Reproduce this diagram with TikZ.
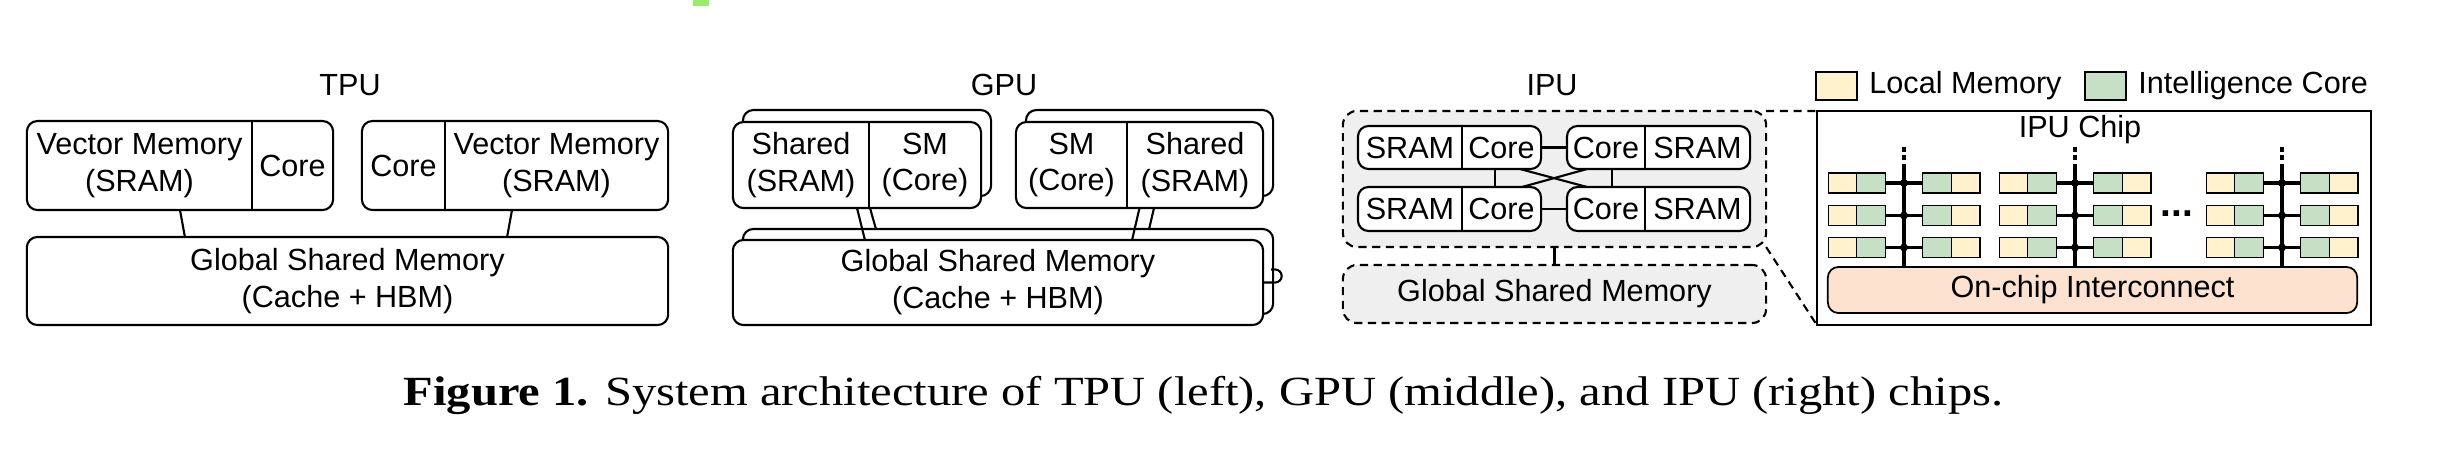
\documentclass[tikz,border=0pt]{standalone}
\usepackage{fontspec}
\setmainfont{Liberation Sans}
\newfontfamily\capfont[FakeStretch=1.17]{Liberation Serif}
\usepackage{tikz}
\usetikzlibrary{positioning}

\definecolor{memfill}{HTML}{FFF2CC}
\definecolor{corefill}{HTML}{C5E0C5}
\definecolor{netfill}{HTML}{FCE2CF}
\definecolor{regionfill}{HTML}{EFEFEF}
\definecolor{markgreen}{HTML}{9DE86F}

\begin{document}
\begin{tikzpicture}[x=0.01cm,y=-0.01cm,font=\fontsize{8.7}{10.5}\selectfont,
  box/.style={draw,line width=0.6pt,rounded corners=3pt,fill=white,inner sep=0pt,outer sep=0pt},
  part/.style={inner sep=0pt,outer sep=0pt,align=center},
  wire/.style={line width=0.6pt},
  region/.style={draw,line width=0.6pt,dash pattern=on 2.3pt off 1.6pt,rounded corners=4pt,fill=regionfill,inner sep=0pt,outer sep=0pt},
  zoomline/.style={line width=0.6pt,dash pattern=on 2.3pt off 1.6pt},
  lm/.style={draw,line width=0.4pt,fill=memfill,minimum width=0.285cm,minimum height=0.2cm,inner sep=0pt,outer sep=0pt},
  ic/.style={draw,line width=0.4pt,fill=corefill,minimum width=0.285cm,minimum height=0.2cm,inner sep=0pt,outer sep=0pt},
  link/.style={line width=1pt},
  dot/.style={circle,fill,inner sep=0pt,minimum size=0.08cm}]

\useasboundingbox (0,0) rectangle (2454,454);
\fill[markgreen] (693,0) rectangle (709,6);

% TPU
\node (tpu) at (350,85) {TPU};
\node[box,minimum width=3.06cm,minimum height=0.89cm] (tpuA) at (180,165.5) {};
\node[part,minimum width=2.25cm,minimum height=0.89cm] (tpuAm) at (139.5,165.5) {Vector Memory\\(SRAM)};
\node[part,minimum width=0.81cm,minimum height=0.89cm] (tpuAc) at (292.5,165.5) {Core};
\draw[wire] (tpuAm.north east) -- (tpuAm.south east);

\node[box,minimum width=3.06cm,minimum height=0.89cm] (tpuB) at (515,165.5) {};
\node[part,minimum width=0.83cm,minimum height=0.89cm] (tpuBc) at (403.5,165.5) {Core};
\node[part,minimum width=2.23cm,minimum height=0.89cm] (tpuBm) at (556.5,165.5) {Vector Memory\\(SRAM)};
\draw[wire] (tpuBm.north west) -- (tpuBm.south west);

\node[box,minimum width=6.41cm,minimum height=0.88cm,align=center] (tpuG) at (347.5,281) {Global Shared Memory\\(Cache + HBM)};

\draw[wire] (tpuA.south) -- ([xshift=-1.625cm]tpuG.north);
\draw[wire] ([xshift=-0.03cm]tpuB.south) -- ([xshift=1.595cm]tpuG.north);

% GPU
\node (gpu) at (1004,85) {GPU};
\node[box,minimum width=2.48cm,minimum height=0.86cm] (gpuAb) at (867,153) {};
\node[box,minimum width=2.48cm,minimum height=0.86cm] (gpuAf) at (857,165) {};
\node[part,minimum width=1.36cm,minimum height=0.86cm] (gpuAm) at (801,165) {Shared\\(SRAM)};
\node[part,minimum width=1.12cm,minimum height=0.86cm] (gpuAc) at (925,165) {SM\\(Core)};
\draw[wire] (gpuAm.north east) -- (gpuAm.south east);

\node[box,minimum width=2.47cm,minimum height=0.86cm] (gpuBb) at (1149.5,153) {};
\node[box,minimum width=2.47cm,minimum height=0.86cm] (gpuBf) at (1139.5,165) {};
\node[part,minimum width=1.11cm,minimum height=0.86cm] (gpuBc) at (1071.5,165) {SM\\(Core)};
\node[part,minimum width=1.36cm,minimum height=0.86cm] (gpuBm) at (1195,165) {Shared\\(SRAM)};
\draw[wire] (gpuBm.north west) -- (gpuBm.south west);

\node[box,minimum width=5.30cm,minimum height=0.85cm] (gpuGb) at (1008,271.5) {};
\node[box,minimum width=5.30cm,minimum height=0.85cm,align=center] (gpuGf) at (998,282.5) {Global Shared Memory\\(Cache + HBM)};
\draw[wire] (gpuGf.east) -- ++(0.12cm,0) arc[start angle=-90,end angle=90,radius=0.065cm] -- ++(-0.04cm,0);

\draw[wire] (gpuAf.south) -- ([xshift=-1.33cm]gpuGf.north);
\draw[wire] ([xshift=0.13cm]gpuAf.south) -- ([xshift=-1.32cm]gpuGb.north);
\draw[wire] (gpuBf.south) -- ([xshift=1.34cm]gpuGf.north);
\draw[wire] ([xshift=0.145cm]gpuBf.south) -- ([xshift=1.41cm]gpuGb.north);

% IPU
\node (ipu) at (1552,85) {IPU};
\node[region,minimum width=4.23cm,minimum height=1.36cm] (ipuA) at (1554.5,179) {};
\node[region,minimum width=4.23cm,minimum height=0.58cm] (ipuG) at (1554.5,294) {Global Shared Memory};
\draw[wire] (ipuA.south) -- (ipuG.north);

\node[box,minimum width=1.83cm,minimum height=0.43cm] (t1) at (1449.5,147.5) {};
\node[part,minimum width=1.04cm,minimum height=0.43cm] (t1m) at (1410,147.5) {SRAM};
\node[part,minimum width=0.79cm,minimum height=0.43cm] (t1c) at (1501.5,147.5) {Core};
\draw[wire] (t1m.north east) -- (t1m.south east);

\node[box,minimum width=1.83cm,minimum height=0.43cm] (t2) at (1658.5,147.5) {};
\node[part,minimum width=0.78cm,minimum height=0.43cm] (t2c) at (1606,147.5) {Core};
\node[part,minimum width=1.05cm,minimum height=0.43cm] (t2m) at (1697.5,147.5) {SRAM};
\draw[wire] (t2m.north west) -- (t2m.south west);

\node[box,minimum width=1.83cm,minimum height=0.44cm] (t3) at (1449.5,209) {};
\node[part,minimum width=1.04cm,minimum height=0.44cm] (t3m) at (1410,209) {SRAM};
\node[part,minimum width=0.79cm,minimum height=0.44cm] (t3c) at (1501.5,209) {Core};
\draw[wire] (t3m.north east) -- (t3m.south east);

\node[box,minimum width=1.83cm,minimum height=0.44cm] (t4) at (1658.5,209) {};
\node[part,minimum width=0.78cm,minimum height=0.44cm] (t4c) at (1606,209) {Core};
\node[part,minimum width=1.05cm,minimum height=0.44cm] (t4m) at (1697.5,209) {SRAM};
\draw[wire] (t4m.north west) -- (t4m.south west);

\draw[wire] (t1c) -- (t2c);
\draw[wire] (t3c) -- (t4c);
\draw[wire] ([xshift=-0.065cm]t1c.south) -- ([xshift=-0.065cm]t3c.north);
\draw[wire] ([xshift=0.06cm]t2c.south) -- ([xshift=0.06cm]t4c.north);
\draw[wire] ([xshift=0.185cm]t1c.south) -- ([xshift=-0.19cm]t4c.north);
\draw[wire] ([xshift=-0.19cm]t2c.south) -- ([xshift=0.205cm]t3c.north);

% IPU chip
\node[draw,line width=0.7pt,minimum width=5.54cm,minimum height=2.14cm,inner sep=0pt,outer sep=0pt] (chip) at (2094,218) {};
\node (chipt) at (2080,130) {IPU Chip};

\node[lm,minimum width=0.41cm,minimum height=0.28cm] (keym) at (1836.5,86) {};
\node[right=0pt of keym] (keymt) {Local Memory};
\node[ic,minimum width=0.41cm,minimum height=0.28cm] (keyc) at (2105.5,86) {};
\node[right=0pt of keyc] (keyct) {Intelligence Core};

\node[draw,line width=0.5pt,rounded corners=3pt,fill=netfill,minimum width=5.29cm,minimum height=0.46cm,inner sep=0pt,outer sep=0pt] (net) at (2092.5,290) {On-chip Interconnect};

\node[lm] (m11a) at (1842.5,183) {};
\node[ic,right=0pt of m11a] (c11a) {};
\node[ic] (c11b) at (1937,183) {};
\node[lm,right=0pt of c11b] (m11b) {};
\node[lm] (m12a) at (1842.5,215.5) {};
\node[ic,right=0pt of m12a] (c12a) {};
\node[ic] (c12b) at (1937,215.5) {};
\node[lm,right=0pt of c12b] (m12b) {};
\node[lm] (m13a) at (1842.5,247.5) {};
\node[ic,right=0pt of m13a] (c13a) {};
\node[ic] (c13b) at (1937,247.5) {};
\node[lm,right=0pt of c13b] (m13b) {};

\node[lm] (m21a) at (2013.5,183) {};
\node[ic,right=0pt of m21a] (c21a) {};
\node[ic] (c21b) at (2108,183) {};
\node[lm,right=0pt of c21b] (m21b) {};
\node[lm] (m22a) at (2013.5,215.5) {};
\node[ic,right=0pt of m22a] (c22a) {};
\node[ic] (c22b) at (2108,215.5) {};
\node[lm,right=0pt of c22b] (m22b) {};
\node[lm] (m23a) at (2013.5,247.5) {};
\node[ic,right=0pt of m23a] (c23a) {};
\node[ic] (c23b) at (2108,247.5) {};
\node[lm,right=0pt of c23b] (m23b) {};

\node[lm] (m31a) at (2220.5,183) {};
\node[ic,right=0pt of m31a] (c31a) {};
\node[ic] (c31b) at (2315,183) {};
\node[lm,right=0pt of c31b] (m31b) {};
\node[lm] (m32a) at (2220.5,215.5) {};
\node[ic,right=0pt of m32a] (c32a) {};
\node[ic] (c32b) at (2315,215.5) {};
\node[lm,right=0pt of c32b] (m32b) {};
\node[lm] (m33a) at (2220.5,247.5) {};
\node[ic,right=0pt of m33a] (c33a) {};
\node[ic] (c33b) at (2315,247.5) {};
\node[lm,right=0pt of c33b] (m33b) {};

\node[font=\fontsize{11}{11}\selectfont\bfseries,anchor=base] (more) at (2177,216) {...};

\draw[link] (c11a) -- node[dot] (j11) {} (c11b);
\draw[link] (c12a) -- node[dot] (j12) {} (c12b);
\draw[link] (c13a) -- node[dot] (j13) {} (c13b);
\draw[link] (c21a) -- node[dot] (j21) {} (c21b);
\draw[link] (c22a) -- node[dot] (j22) {} (c22b);
\draw[link] (c23a) -- node[dot] (j23) {} (c23b);
\draw[link] (c31a) -- node[dot] (j31) {} (c31b);
\draw[link] (c32a) -- node[dot] (j32) {} (c32b);
\draw[link] (c33a) -- node[dot] (j33) {} (c33b);

\draw[link] ([yshift=0.15cm]j11.center) -- (j11 |- net.north);
\draw[link] ([yshift=0.15cm]j21.center) -- (j21 |- net.north);
\draw[link] ([yshift=0.15cm]j31.center) -- (j31 |- net.north);
\draw[link,dash pattern=on 1.4pt off 1pt] ([yshift=0.36cm]j11.center) -- ([yshift=0.15cm]j11.center);
\draw[link,dash pattern=on 1.4pt off 1pt] ([yshift=0.36cm]j21.center) -- ([yshift=0.15cm]j21.center);
\draw[link,dash pattern=on 1.4pt off 1pt] ([yshift=0.36cm]j31.center) -- ([yshift=0.15cm]j31.center);

\draw[zoomline] (ipuA.north east) -- (chip.north west);
\draw[zoomline] (ipuA.south east) -- (chip.south west);

\node[font=\capfont\fontsize{11.8}{14}\selectfont,anchor=base] (cap) at (1203.5,405) {\textbf{Figure 1.} System architecture of TPU (left), GPU (middle), and IPU (right) chips.};

\end{tikzpicture}
\end{document}
